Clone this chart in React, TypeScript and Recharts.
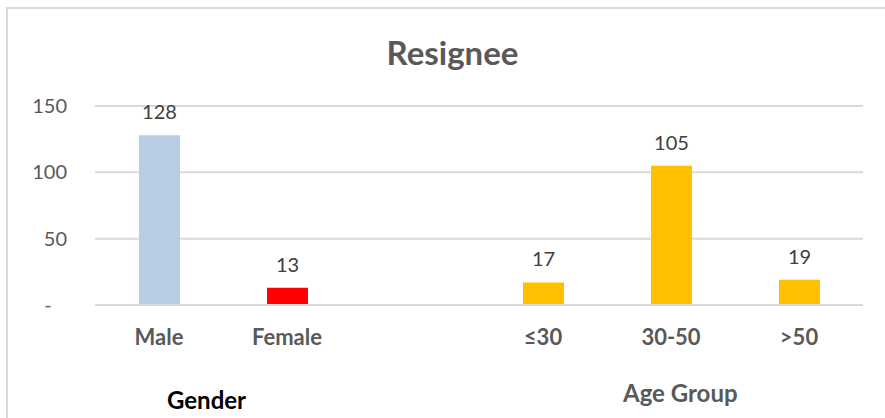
import { BarChart, Bar, XAxis, YAxis, CartesianGrid, Cell, LabelList } from 'recharts';

const categories = ['Male', 'Female', '', '≤30', '30-50', '>50'];
const resignees = [128, 13, null, 17, 105, 19];
const barColors = ['#B8CCE4', '#FF0000', '#FFC000', '#FFC000', '#FFC000', '#FFC000'];
const yTicks = [0, 50, 100, 150];
const groupLabels = ['Gender', 'Age Group'];

const data = categories.map((name, i) => ({ name, value: resignees[i] }));

const FONT = 'Lato, "Open Sans", sans-serif';

export default function App() {
  return (
    <div style={{ position: 'absolute', left: 0, top: 0, width: 885, height: 418, overflow: 'hidden', background: '#fff', fontFamily: FONT }}>
      <div style={{ position: 'absolute', left: 0, top: 0 }}>
        <BarChart width={885} height={418} data={data} margin={{ top: 106, right: 22, left: 0, bottom: 83 }}>
          <CartesianGrid stroke="#D9D9D9" strokeWidth={2} vertical={false} />
          <XAxis
            dataKey="name"
            axisLine={{ stroke: '#D9D9D9', strokeWidth: 2 }}
            tickLine={false}
            tickSize={0}
            tickMargin={24}
            height={30}
            interval={0}
            tick={{ fill: '#595959', fontSize: 22, fontWeight: 700, fontFamily: FONT }}
          />
          <YAxis
            width={95}
            domain={[0, 150]}
            ticks={yTicks}
            axisLine={false}
            tickLine={false}
            tickSize={0}
            tickMargin={28}
            tickFormatter={(v: number) => (v === 0 ? '-\u00a0\u00a0\u00a0' : String(v))}
            tick={{ fill: '#595959', fontSize: 20, fontFamily: FONT }}
          />
          <Bar dataKey="value" barSize={41} isAnimationActive={false}>
            {data.map((d, i) => (
              <Cell key={d.name + i} fill={barColors[i]} />
            ))}
            <LabelList dataKey="value" position="top" offset={16} fill="#404040" fontSize={20} fontFamily={FONT} />
          </Bar>
        </BarChart>
      </div>
      <div
        style={{
          position: 'absolute',
          left: 0,
          width: 905,
          top: 32,
          textAlign: 'center',
          fontSize: 33,
          fontWeight: 700,
          color: '#595959',
        }}
      >
        Resignee
      </div>
      <div style={{ position: 'absolute', left: 167, top: 385, fontSize: 24, fontWeight: 700, color: '#000' }}>
        {groupLabels[0]}
      </div>
      <div style={{ position: 'absolute', left: 623, top: 378, fontSize: 24, fontWeight: 700, color: '#595959' }}>
        {groupLabels[1]}
      </div>
      {/* outer frame: only the top and left edges are in view */}
      <div style={{ position: 'absolute', left: 6, top: 7, width: 879, height: 2, background: '#D9D9D9', zIndex: 5 }} />
      <div style={{ position: 'absolute', left: 6, top: 7, width: 2, height: 411, background: '#D9D9D9', zIndex: 5 }} />
    </div>
  );
}
